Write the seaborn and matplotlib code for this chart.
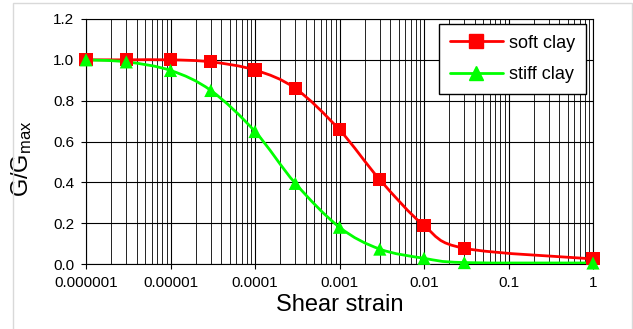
import numpy as np
import pandas as pd
import seaborn as sns
from matplotlib import pyplot as plt
from matplotlib.path import Path
from matplotlib.patches import PathPatch, Rectangle
from matplotlib.lines import Line2D
from matplotlib.ticker import FixedLocator, FixedFormatter, LogLocator, NullFormatter

# data
strain = [1e-6, 3e-6, 1e-5, 3e-5, 1e-4, 3e-4, 1e-3, 3e-3, 1e-2, 3e-2, 1.0]
soft_clay = [1.0, 1.0, 1.0, 0.99, 0.95, 0.86, 0.657, 0.413, 0.188, 0.077, 0.025]
stiff_clay = [1.0, 0.99, 0.948, 0.85, 0.649, 0.395, 0.18, 0.073, 0.028, 0.007, 0.005]
series_names = ["soft clay", "stiff clay"]
series_colors = {"soft clay": "#FF0000", "stiff clay": "#00FF00"}
series_markers = {"soft clay": "s", "stiff clay": "^"}
x_ticks = [1e-6, 1e-5, 1e-4, 1e-3, 1e-2, 1e-1, 1.0]
x_tick_labels = ["0.000001", "0.00001", "0.0001", "0.001", "0.01", "0.1", "1"]
y_ticks = [0.0, 0.2, 0.4, 0.6, 0.8, 1.0, 1.2]
y_tick_labels = ["0.0", "0.2", "0.4", "0.6", "0.8", "1.0", "1.2"]

df = pd.DataFrame({
    "strain": strain * 2,
    "ratio": soft_clay + stiff_clay,
    "clay": [series_names[0]] * len(strain) + [series_names[1]] * len(strain),
})

sns.set_theme(style="white")
plt.rcParams["font.family"] = ["Liberation Sans", "DejaVu Sans"]
plt.rcParams["mathtext.fontset"] = "custom"
plt.rcParams["mathtext.rm"] = "Liberation Sans"
plt.rcParams["mathtext.it"] = "Liberation Sans:italic"
for key in ["text.color", "axes.labelcolor", "xtick.color", "ytick.color"]:
    plt.rcParams[key] = "black"


def smooth_path(xs, ys):
    # excel-like smoothed line: cubic bezier segments (catmull-rom) in log-x space
    lx = np.log10(xs)
    ys = np.asarray(ys, dtype=float)
    n = len(lx)
    verts = [(xs[0], ys[0])]
    codes = [Path.MOVETO]
    for i in range(n - 1):
        p0 = max(i - 1, 0)
        p3 = min(i + 2, n - 1)
        c1x = lx[i] + (lx[i + 1] - lx[p0]) / 6
        c1y = ys[i] + (ys[i + 1] - ys[p0]) / 6
        c2x = lx[i + 1] - (lx[p3] - lx[i]) / 6
        c2y = ys[i + 1] - (ys[p3] - ys[i]) / 6
        verts += [(10 ** c1x, c1y), (10 ** c2x, c2y), (xs[i + 1], ys[i + 1])]
        codes += [Path.CURVE4] * 3
    return Path(verts, codes)


fig = plt.figure(figsize=(6.33, 3.29), dpi=100)
ax = fig.add_axes([86 / 633, 1 - 264 / 329, 507 / 633, 245 / 329])

# light outer chart border
fig.patches.append(Rectangle((13 / 633, -0.02), 619 / 633, 1.0 - 3 / 329 + 0.02,
                             transform=fig.transFigure, fill=False,
                             edgecolor="#d9d9d9", linewidth=1.0))

ax.set_xscale("log")
ax.set_xlim(1e-6, 1.0)
ax.set_ylim(0, 1.2)

for name, vals in zip(series_names, [soft_clay, stiff_clay]):
    ax.add_patch(PathPatch(smooth_path(strain, vals), fill=False,
                           edgecolor=series_colors[name], linewidth=2.0, zorder=3))

sns.scatterplot(data=df, x="strain", y="ratio", hue="clay", style="clay",
                palette=series_colors, markers=series_markers, s=90,
                edgecolor="none", legend=False, ax=ax, zorder=4, clip_on=False)

ax.xaxis.set_major_locator(FixedLocator(x_ticks))
ax.xaxis.set_major_formatter(FixedFormatter(x_tick_labels))
ax.xaxis.set_minor_locator(LogLocator(base=10, subs=np.arange(2, 10)))
ax.xaxis.set_minor_formatter(NullFormatter())
ax.yaxis.set_major_locator(FixedLocator(y_ticks))
ax.yaxis.set_major_formatter(FixedFormatter(y_tick_labels))

ax.grid(True, which="major", axis="both", color="black", linewidth=0.8)
ax.grid(True, which="minor", axis="x", color="#222222", linewidth=0.7)
ax.set_axisbelow(True)
for sp in ax.spines.values():
    sp.set_color("black")
    sp.set_linewidth(0.8)

ax.tick_params(axis="both", which="major", direction="out", length=3.5, width=0.8,
               color="black", labelsize=11, pad=5, bottom=True, left=True)
ax.tick_params(axis="x", which="minor", length=0)

ax.set_xlabel("Shear strain", fontsize=17, labelpad=3)
ax.set_ylabel(r"G/G$_{\mathrm{max}}$", fontsize=17)
ax.yaxis.set_label_coords(-0.103, 0.43)

handles = [Line2D([], [], color=series_colors[n], marker=series_markers[n],
                  markersize=10, linewidth=2.0) for n in series_names]
leg = ax.legend(handles, series_names, loc="upper right", bbox_to_anchor=(0.986, 0.98),
                borderaxespad=0, fontsize=13, frameon=True, fancybox=False,
                framealpha=1, edgecolor="black", handlelength=2.9,
                handletextpad=0.35, labelspacing=0.8, borderpad=0.6)
leg.get_frame().set_linewidth(1.0)

fig.savefig("out.png", dpi=100)
